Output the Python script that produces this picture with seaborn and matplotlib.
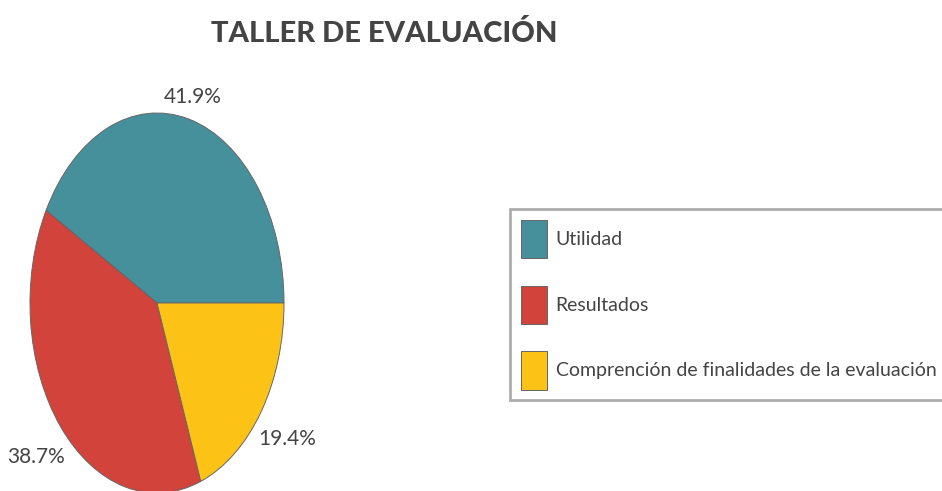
import matplotlib
matplotlib.use("Agg")
import matplotlib.pyplot as plt
import seaborn as sns

# Data
categories = ["Utilidad", "Resultados", "Comprención de finalidades de la evaluación"]
shares = [41.9, 38.7, 19.4]
colors = ["#45909B", "#D2433B", "#FCC216"]
title = "TALLER DE EVALUACIÓN"

sns.set_theme(style="white")
plt.rcParams["font.family"] = ["Lato", "DejaVu Sans"]

fig = plt.figure(figsize=(9.42, 4.91), dpi=100)
fig.patch.set_facecolor("white")

# pie is drawn stretched vertically, like the reference
ax = fig.add_axes([30 / 942, -2 / 491, 254 / 942, 380 / 491])
wedges, texts, autotexts = ax.pie(
    shares,
    colors=colors,
    startangle=0,
    counterclock=True,
    autopct="%.1f%%",
    pctdistance=1.25,
    wedgeprops=dict(edgecolor="#666666", linewidth=0.7),
    textprops=dict(fontsize=15, color="#444444"),
)
# top label sits a little closer to the pie
for t, d in zip(autotexts, [1.12, 1.25, 1.25]):
    x, y = t.get_position()
    t.set_position((x * d / 1.25, y * d / 1.25))
    t.set_clip_on(False)
ax.set_aspect("auto")
ax.set_xlim(-1, 1)
ax.set_ylim(-1, 1)
ax.axis("off")

fig.text(384 / 942, 1 - 34 / 491, title, ha="center", va="center",
         fontsize=21, fontweight="black", color="#444444")

leg = fig.legend(
    wedges, categories,
    loc="upper left",
    bbox_to_anchor=(510 / 942, 1 - 209 / 491),
    frameon=True, fancybox=False,
    fontsize=14, labelcolor="#444444",
    handlelength=1.35, handleheight=2.65, handletextpad=0.45,
    labelspacing=1.42, borderpad=0.55, borderaxespad=0,
)
leg.get_frame().set_edgecolor("#999999")
leg.get_frame().set_linewidth(2)

fig.savefig("out.png", dpi=100, facecolor="white")
